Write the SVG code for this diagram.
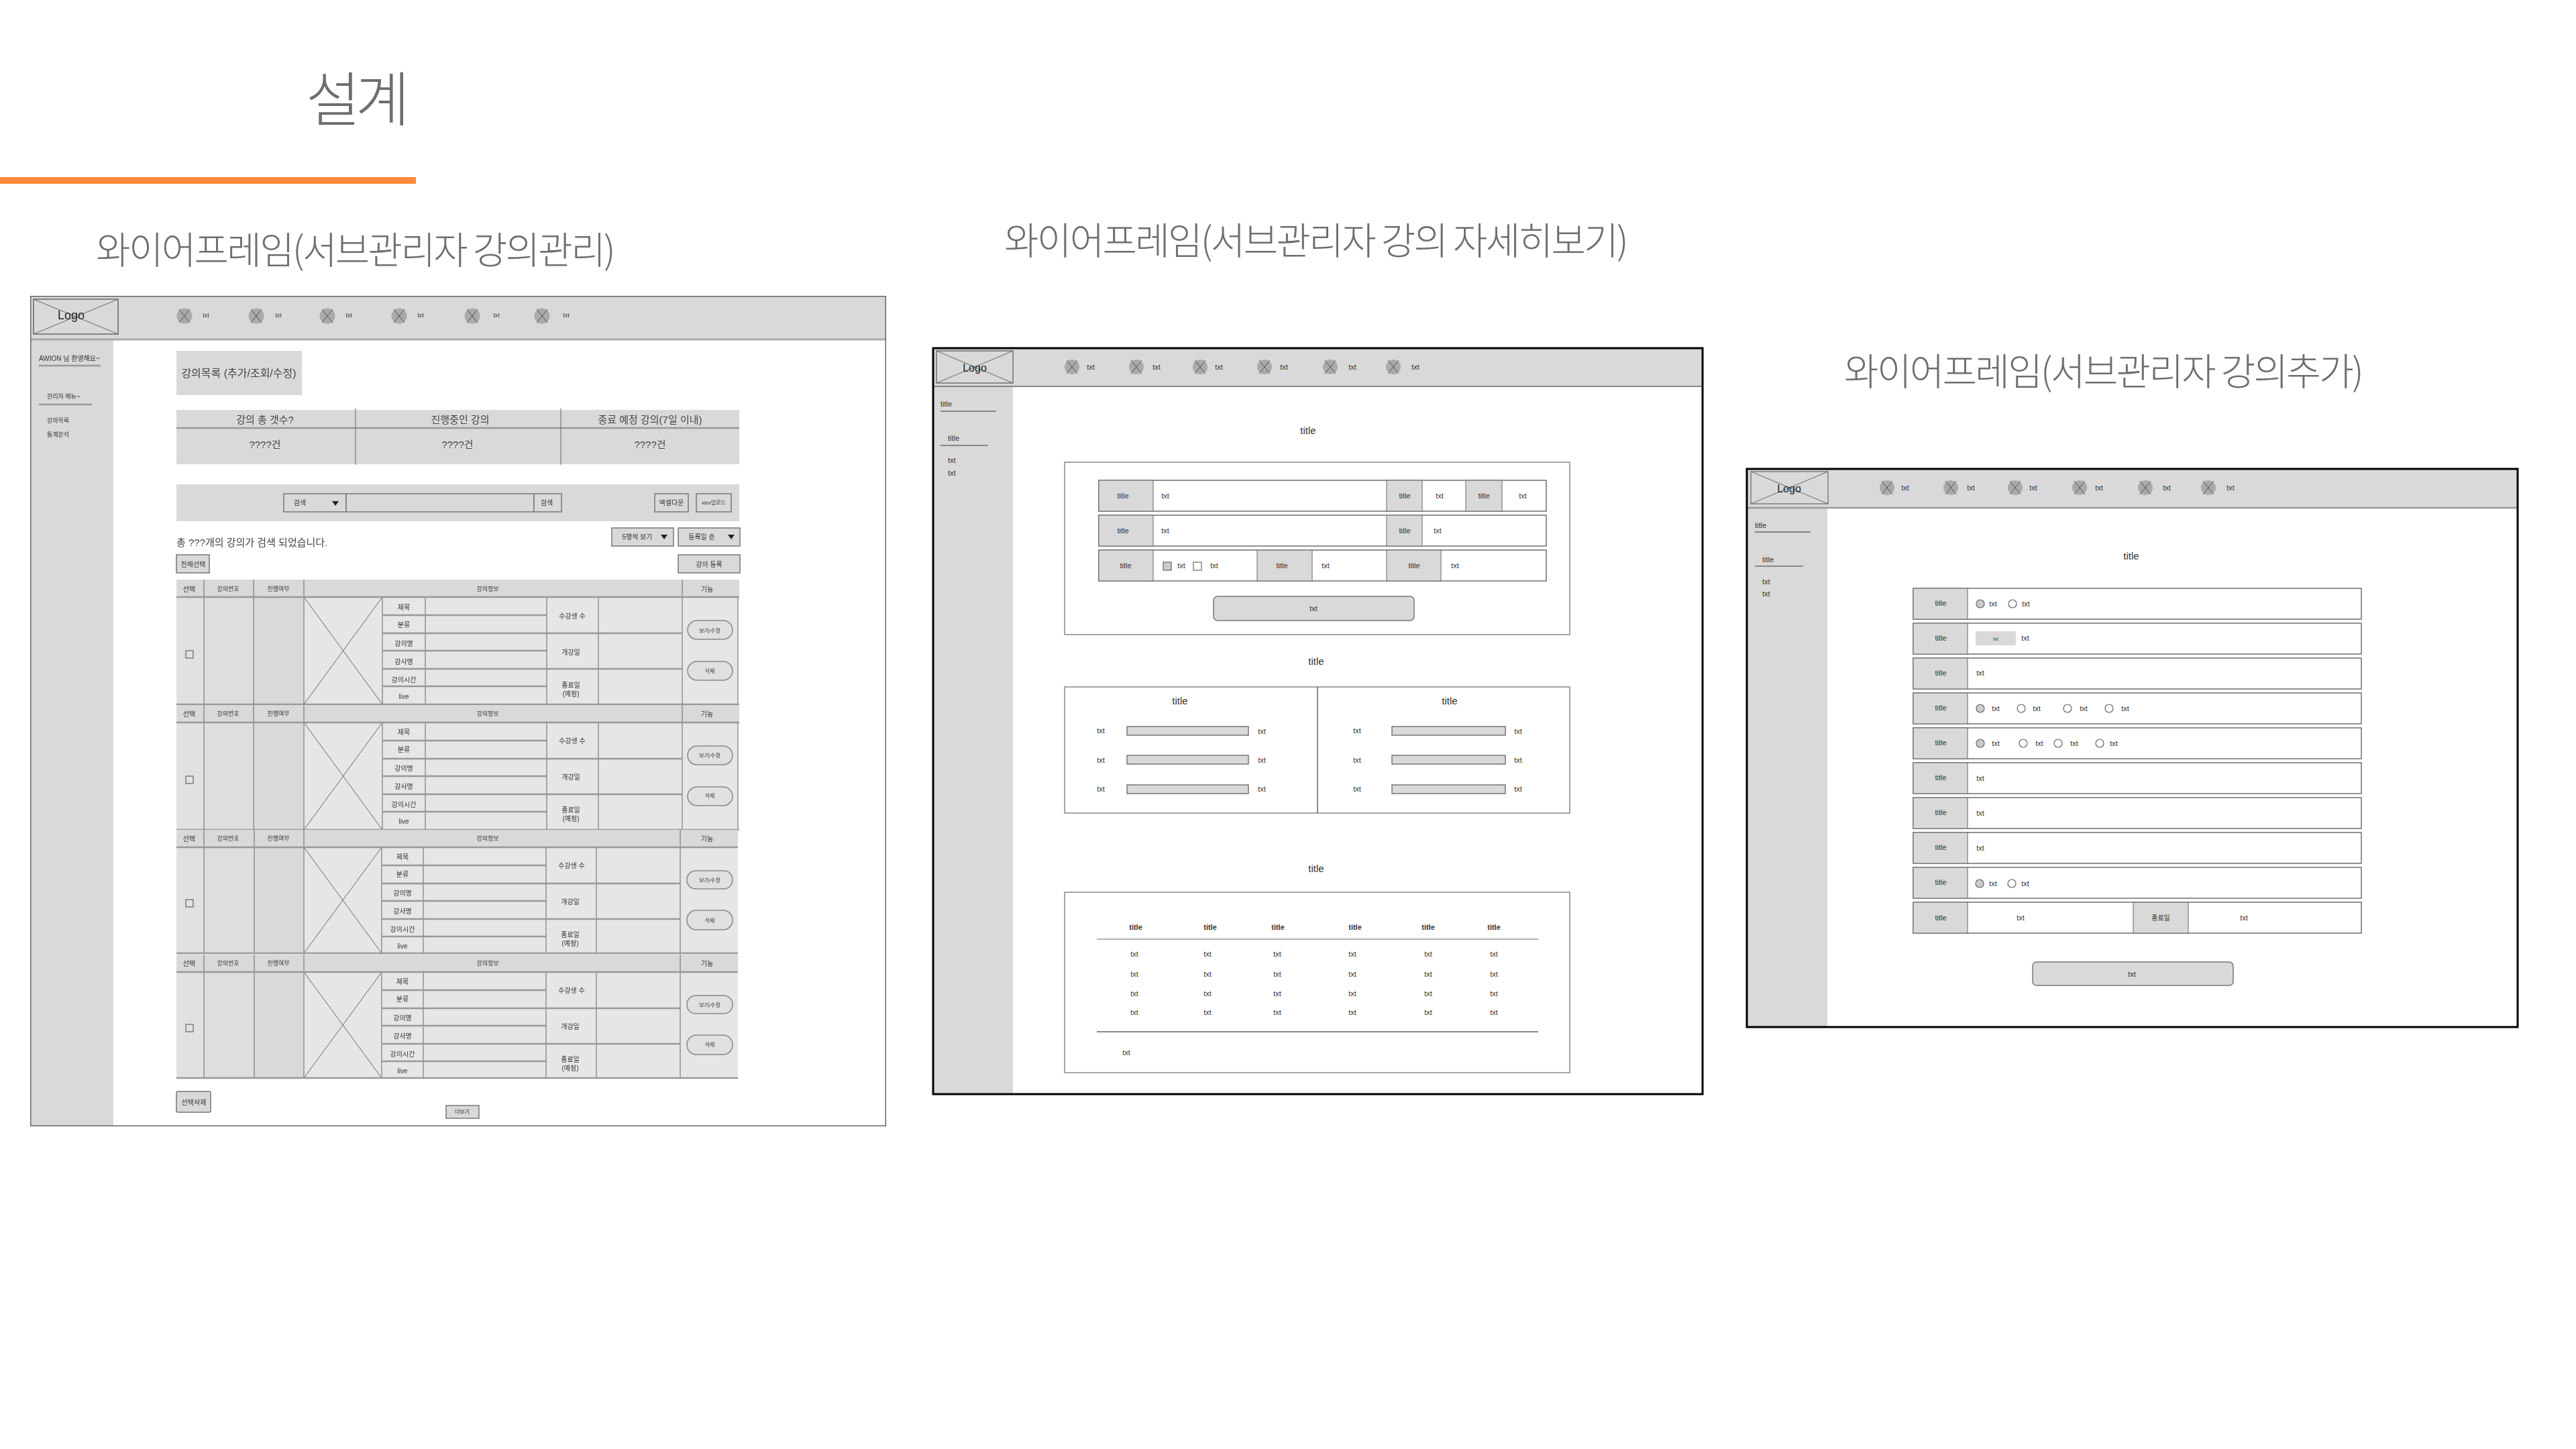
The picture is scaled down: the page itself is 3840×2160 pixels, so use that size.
<svg xmlns="http://www.w3.org/2000/svg" xmlns:xlink="http://www.w3.org/1999/xlink" width="3840" height="2160" viewBox="0 0 3840 2160">
<style>
text{font-family:"Liberation Sans","Noto Sans CJK KR",sans-serif;fill:#333;text-anchor:middle;dominant-baseline:central;font-size:11px}
.h{font-family:"Noto Sans CJK KR",sans-serif;font-weight:300;font-size:56px;fill:#6e6e6e;letter-spacing:-2.7px}
.s8{font-size:8px}.s9{font-size:9px}.s10{font-size:10px}.s15{font-size:15px}.s16{font-size:16px;fill:#222}
.t{font-size:15px;fill:#444}
.l{text-anchor:start}.b{font-weight:bold}
.bg{fill:#d9d9d9}
.c{fill:#d9d9d9;stroke:#666;stroke-width:1}
.ln{fill:none;stroke:#666;stroke-width:1}
.ln2{fill:none;stroke:#888;stroke-width:2}
.ln3{fill:none;stroke:#999;stroke-width:2.5}
.box{fill:#fff;stroke:#777;stroke-width:1.6}
.btn{fill:#d9d9d9;stroke:#777;stroke-width:1.5}
.ico{fill:#aaa}
.w{fill:#fff;stroke:#666;stroke-width:1.2}
.g{fill:#ccc;stroke:#666;stroke-width:1.2}
.fb{filter:url(#soft)}
</style>
<defs>
<filter id="soft" x="0" y="0" width="1" height="1"><feGaussianBlur stdDeviation="0.55"/></filter>
<path id="x" d="M-8-10L8 10M8-10L-8 10" fill="none" stroke="#555" stroke-width="1"/>
<path id="tri" d="M-5-3H5L0 4Z" fill="#222"/>
<g id="rowA">
<rect x="263" y="0" width="839" height="26" fill="#d9d9d9"/>
<rect x="263" y="26" width="41" height="160" fill="#e1e1e1"/>
<rect x="304" y="26" width="74" height="160" fill="#dedede"/>
<rect x="378" y="26" width="75" height="160" fill="#d9d9d9"/>
<rect x="453" y="26" width="647" height="160" fill="#e6e6e6"/>
<path class="ln" d="M304 0V186M378 0V186M453 0V186M570 26V186M634 26V186M815 26V186M892 26V186M1017 0V186M1100 26V186M453 26L570 186M570 26L453 186"/>
<path class="ln3" d="M263 26H1102M570 53H815M570 80H1017M570 106H815M570 133H1017M570 159H815M263 186H1102"/>
<rect x="1025" y="61" width="67" height="28" rx="14" fill="#e0e0e0" stroke="#888" stroke-width="1.5"/>
<rect x="1025" y="122" width="67" height="28" rx="14" fill="#e0e0e0" stroke="#888" stroke-width="1.5"/>
<rect x="277" y="106" width="11" height="11" fill="none" stroke="#666" stroke-width="1.2"/>
</g>
<g id="rowB">
<rect x="263" y="0" width="837" height="26" fill="#d9d9d9"/>
<rect x="263" y="26" width="41" height="158" fill="#e1e1e1"/>
<rect x="304" y="26" width="75" height="158" fill="#dedede"/>
<rect x="379" y="26" width="74" height="158" fill="#d9d9d9"/>
<rect x="453" y="26" width="647" height="158" fill="#e6e6e6"/>
<path class="ln" d="M304 0V184M379 0V184M453 0V184M569 26V184M631 26V184M814 26V184M889 26V184M1014 0V184M453 26L569 184M569 26L453 184"/>
<path class="ln3" d="M263 26H1100M569 53H814M569 80H1014M569 106H814M569 133H1014M569 159H814M263 184H1100"/>
<rect x="1024" y="61" width="68" height="27" rx="13" fill="#e0e0e0" stroke="#888" stroke-width="1.5"/>
<rect x="1024" y="120" width="68" height="29" rx="14" fill="#e0e0e0" stroke="#888" stroke-width="1.5"/>
<rect x="277" y="104" width="11" height="11" fill="none" stroke="#666" stroke-width="1.2"/>
</g>
<g id="f3row">
<rect class="box" x="2852" y="0" width="668" height="46"/>
<rect class="c" x="2852" y="0" width="81" height="46"/>
</g>
</defs>
<rect width="3840" height="2160" fill="#fff"/>
<g id="page-title">
<text x="530" y="141" class="h" style="font-size:88px;letter-spacing:-7px">설계</text>
<rect x="0" y="264" width="620" height="10" fill="#ff8a3d"/>
<text x="529" y="368" class="h">와이어프레임(서브관리자 강의관리)</text>
<text x="1961" y="354" class="h">와이어프레임(서브관리자 강의 자세히보기)</text>
<text x="3135" y="549" class="h">와이어프레임(서브관리자 강의추가)</text>
</g>

<g id="frame1" class="fb">
<rect x="45" y="441" width="1276" height="1238" fill="#fff"/>
<rect class="bg" x="45" y="441" width="1276" height="65"/>
<rect class="bg" x="45" y="506" width="124" height="1173"/>
<path d="M45 506H1321" stroke="#aaa" stroke-width="3"/>
<rect x="45" y="441" width="1276" height="1238" fill="none" stroke="#666" stroke-width="3"/>
<g id="f1-logo"><rect x="50" y="446" width="126" height="52" fill="none" stroke="#666" stroke-width="1.5"/><path class="ln" d="M50 446L176 498M176 446L50 498"/><text x="106" y="470" class="s16" style="font-size:18px">Logo</text></g>
<g id="f1-nav">
<circle class="ico" cx="275" cy="471" r="11.5"/><use xlink:href="#x" x="275" y="471"/><text x="307" y="470" class="s9">txt</text>
<circle class="ico" cx="382" cy="471" r="11.5"/><use xlink:href="#x" x="382" y="471"/><text x="415" y="470" class="s9">txt</text>
<circle class="ico" cx="488" cy="471" r="11.5"/><use xlink:href="#x" x="488" y="471"/><text x="520" y="470" class="s9">txt</text>
<circle class="ico" cx="595" cy="471" r="11.5"/><use xlink:href="#x" x="595" y="471"/><text x="627" y="470" class="s9">txt</text>
<circle class="ico" cx="704" cy="471" r="11.5"/><use xlink:href="#x" x="704" y="471"/><text x="740" y="470" class="s9">txt</text>
<circle class="ico" cx="808" cy="471" r="11.5"/><use xlink:href="#x" x="808" y="471"/><text x="844" y="470" class="s9">txt</text>
</g>
<g id="f1-side">
<text x="58" y="534" class="s10 l">AWION 님 환영해요~</text><path class="ln3" d="M58 545H150"/>
<text x="70" y="591" class="s9 l">관리자 메뉴~</text><path class="ln3" d="M58 603H137"/>
<text x="70" y="627" class="s9 l">강의목록</text><text x="70" y="648" class="s9 l">통계분석</text>
</g>
<g id="f1-head"><rect class="bg" x="263" y="523" width="187" height="66"/><text x="356" y="556" class="t" style="font-size:16px">강의목록 (추가/조회/수정)</text></g>
<g id="f1-stats">
<rect class="bg" x="263" y="611" width="839" height="81"/>
<path class="ln3" d="M263 638H1102"/><path class="ln" d="M530 609V693M836 609V693"/>
<text x="395" y="625" class="t">강의 총 갯수?</text><text x="686" y="625" class="t">진행중인 강의</text><text x="969" y="625" class="t">종료 예정 강의(7일 이내)</text>
<text x="395" y="662" class="t">????건</text><text x="682" y="662" class="t">????건</text><text x="969" y="662" class="t">????건</text>
</g>
<g id="f1-search">
<rect class="bg" x="263" y="722" width="839" height="55"/>
<rect class="btn" x="423" y="736" width="93" height="27"/><text x="447" y="749" class="s10">검색</text><use xlink:href="#tri" x="500" y="750"/>
<rect class="btn" x="516" y="736" width="280" height="27"/>
<rect class="btn" x="796" y="736" width="41" height="27"/><text x="815" y="749" class="s10">검색</text>
<rect class="btn" x="976" y="736" width="50" height="27"/><text x="1001" y="749" class="s10">엑셀다운</text>
<rect class="btn" x="1038" y="736" width="52" height="27"/><text x="1064" y="749" class="s8">xlsx업로드</text>
</g>
<text x="263" y="808" class="t l">총 ???개의 강의가 검색 되었습니다.</text>
<g id="f1-controls">
<rect class="btn" x="912" y="787" width="92" height="27"/><text x="950" y="800" class="s10">5행씩 보기</text><use xlink:href="#tri" x="990" y="800"/>
<rect class="btn" x="1011" y="787" width="92" height="27"/><text x="1046" y="800" class="s10">등록일 순</text><use xlink:href="#tri" x="1090" y="800"/>
<rect class="btn" x="263" y="827" width="49" height="27"/><text x="288" y="841" class="s10">전체선택</text>
<rect class="btn" x="1011" y="827" width="92" height="27"/><text x="1057" y="841" class="s10">강의 등록</text>
</g>
<g id="f1-row1" transform="translate(0,864)">
<use xlink:href="#rowA"/>
<text x="282" y="14" class="s10">선택</text><text x="340" y="14" class="s9">강의번호</text><text x="415" y="14" class="s9">진행여부</text><text x="727" y="14" class="s9">강의정보</text><text x="1054" y="14" class="s10">기능</text>
<text x="602" y="41" class="s10">제목</text><text x="602" y="67" class="s10">분류</text><text x="602" y="95" class="s10">강의명</text><text x="602" y="122" class="s10">강사명</text><text x="602" y="149" class="s10">강의시간</text><text x="602" y="174" class="s10">live</text>
<text x="853" y="54" class="s10">수강생 수</text><text x="851" y="108" class="s10">개강일</text><text x="851" y="157" class="s10">종료일</text><text x="851" y="170" class="s10">(예정)</text>
<text x="1058" y="76" class="s8">보기/수정</text><text x="1058" y="136" class="s8">삭제</text>
</g>
<g id="f1-row2" transform="translate(0,1051)">
<use xlink:href="#rowA"/>
<text x="282" y="13" class="s10">선택</text><text x="340" y="13" class="s9">강의번호</text><text x="415" y="13" class="s9">진행여부</text><text x="727" y="13" class="s9">강의정보</text><text x="1054" y="13" class="s10">기능</text>
<text x="602" y="40" class="s10">제목</text><text x="602" y="66" class="s10">분류</text><text x="602" y="94" class="s10">강의명</text><text x="602" y="121" class="s10">강사명</text><text x="602" y="148" class="s10">강의시간</text><text x="602" y="173" class="s10">live</text>
<text x="853" y="53" class="s10">수강생 수</text><text x="851" y="107" class="s10">개강일</text><text x="851" y="156" class="s10">종료일</text><text x="851" y="169" class="s10">(예정)</text>
<text x="1058" y="75" class="s8">보기/수정</text><text x="1058" y="135" class="s8">삭제</text>
</g>
<g id="f1-row3" transform="translate(0,1237)">
<use xlink:href="#rowB"/>
<text x="282" y="13" class="s10">선택</text><text x="340" y="13" class="s9">강의번호</text><text x="415" y="13" class="s9">진행여부</text><text x="727" y="13" class="s9">강의정보</text><text x="1054" y="13" class="s10">기능</text>
<text x="600" y="40" class="s10">제목</text><text x="600" y="66" class="s10">분류</text><text x="600" y="94" class="s10">강의명</text><text x="600" y="121" class="s10">강사명</text><text x="600" y="148" class="s10">강의시간</text><text x="600" y="173" class="s10">live</text>
<text x="852" y="53" class="s10">수강생 수</text><text x="850" y="107" class="s10">개강일</text><text x="850" y="156" class="s10">종료일</text><text x="850" y="169" class="s10">(예정)</text>
<text x="1058" y="75" class="s8">보기/수정</text><text x="1058" y="135" class="s8">삭제</text>
</g>
<g id="f1-row4" transform="translate(0,1423)">
<use xlink:href="#rowB"/>
<text x="282" y="13" class="s10">선택</text><text x="340" y="13" class="s9">강의번호</text><text x="415" y="13" class="s9">진행여부</text><text x="727" y="13" class="s9">강의정보</text><text x="1054" y="13" class="s10">기능</text>
<text x="600" y="40" class="s10">제목</text><text x="600" y="66" class="s10">분류</text><text x="600" y="94" class="s10">강의명</text><text x="600" y="121" class="s10">강사명</text><text x="600" y="148" class="s10">강의시간</text><text x="600" y="173" class="s10">live</text>
<text x="852" y="53" class="s10">수강생 수</text><text x="850" y="107" class="s10">개강일</text><text x="850" y="156" class="s10">종료일</text><text x="850" y="169" class="s10">(예정)</text>
<text x="1058" y="75" class="s8">보기/수정</text><text x="1058" y="134" class="s8">삭제</text>
</g>
<g id="f1-bottom">
<rect class="btn" x="263" y="1627" width="51" height="31" rx="2"/><text x="289" y="1643" class="s10">선택삭제</text>
<rect class="btn" x="665" y="1648" width="49" height="19"/><text x="689" y="1657" class="s8">더보기</text>
</g>
</g>

<g id="frame2">
<rect x="1391" y="519" width="1147" height="1112" fill="#fff"/>
<rect class="bg" x="1391" y="519" width="1147" height="57"/>
<rect class="bg" x="1391" y="576" width="119" height="1055"/>
<path d="M1391 576H2538" stroke="#666" stroke-width="1.5"/>
<rect x="1391" y="519" width="1147" height="1112" fill="none" stroke="#000" stroke-width="3"/>
<g id="f2-logo"><rect x="1396" y="523" width="114" height="48" fill="none" stroke="#555" stroke-width="1.2"/><path class="ln" d="M1396 523L1510 571M1510 523L1396 571"/><text x="1453" y="548" class="s16">Logo</text></g>
<g id="f2-nav">
<circle class="ico" cx="1598" cy="547" r="11"/><use xlink:href="#x" x="1598" y="547"/><text x="1626" y="547">txt</text>
<circle class="ico" cx="1694" cy="547" r="11"/><use xlink:href="#x" x="1694" y="547"/><text x="1724" y="547">txt</text>
<circle class="ico" cx="1789" cy="547" r="11"/><use xlink:href="#x" x="1789" y="547"/><text x="1817" y="547">txt</text>
<circle class="ico" cx="1885" cy="547" r="11"/><use xlink:href="#x" x="1885" y="547"/><text x="1914" y="547">txt</text>
<circle class="ico" cx="1983" cy="547" r="11"/><use xlink:href="#x" x="1983" y="547"/><text x="2016" y="547">txt</text>
<circle class="ico" cx="2077" cy="547" r="11"/><use xlink:href="#x" x="2077" y="547"/><text x="2110" y="547">txt</text>
</g>
<g id="f2-side">
<text x="1402" y="602" class="l">title</text><path class="ln2" d="M1402 613H1485"/>
<text x="1413" y="653" class="l">title</text><path class="ln2" d="M1402 664H1473"/>
<text x="1413" y="686" class="l">txt</text><text x="1413" y="705" class="l">txt</text>
</g>
<text x="1950" y="641" class="s15">title</text>
<g id="f2-panel1">
<rect class="box" x="1587" y="689" width="753" height="257" style="stroke:#888;stroke-width:1.5"/>
<g id="f2-r1"><rect class="box" x="1638" y="716" width="667" height="46"/><rect class="c" x="1638" y="716" width="81" height="46"/><rect class="c" x="2067" y="716" width="53" height="46"/><rect class="c" x="2185" y="716" width="54" height="46"/>
<text x="1674" y="739">title</text><text x="1737" y="739">txt</text><text x="2094" y="739">title</text><text x="2146" y="739">txt</text><text x="2212" y="739">title</text><text x="2270" y="739">txt</text></g>
<g id="f2-r2"><rect class="box" x="1638" y="768" width="667" height="46"/><rect class="c" x="1638" y="768" width="81" height="46"/><rect class="c" x="2067" y="768" width="53" height="46"/>
<text x="1674" y="791">title</text><text x="1737" y="791">txt</text><text x="2094" y="791">title</text><text x="2143" y="791">txt</text></g>
<g id="f2-r3"><rect class="box" x="1638" y="820" width="667" height="46"/><rect class="c" x="1638" y="820" width="81" height="46"/><rect class="c" x="1874" y="820" width="82" height="46"/><rect class="c" x="2067" y="820" width="81" height="46"/>
<text x="1678" y="843">title</text><rect class="g" x="1734" y="838" width="12" height="12"/><text x="1761" y="843">txt</text><rect class="w" x="1779" y="838" width="12" height="12"/><text x="1810" y="843">txt</text>
<text x="1911" y="843">title</text><text x="1976" y="843">txt</text><text x="2108" y="843">title</text><text x="2169" y="843">txt</text></g>
<rect class="btn" x="1809" y="889" width="299" height="36" rx="6"/><text x="1958" y="907">txt</text>
</g>
<text x="1962" y="985" class="s15">title</text>
<g id="f2-panel2">
<rect class="box" x="1587" y="1024" width="753" height="188" style="stroke:#888;stroke-width:1.5"/>
<path class="ln" d="M1964 1024V1212" style="stroke-width:1.5"/>
<text x="1759" y="1044" class="s15">title</text><text x="2161" y="1044" class="s15">title</text>
<rect class="btn" x="1680" y="1083" width="181" height="13"/><rect class="btn" x="1680" y="1126" width="181" height="13"/><rect class="btn" x="1680" y="1170" width="181" height="13"/>
<rect class="btn" x="2075" y="1083" width="169" height="13"/><rect class="btn" x="2075" y="1126" width="169" height="13"/><rect class="btn" x="2075" y="1170" width="169" height="13"/>
<text x="1641" y="1089">txt</text><text x="1881" y="1090">txt</text><text x="2023" y="1089">txt</text><text x="2263" y="1090">txt</text>
<text x="1641" y="1133">txt</text><text x="1881" y="1133">txt</text><text x="2023" y="1133">txt</text><text x="2263" y="1133">txt</text>
<text x="1641" y="1176">txt</text><text x="1881" y="1176">txt</text><text x="2023" y="1176">txt</text><text x="2263" y="1176">txt</text>
</g>
<text x="1962" y="1294" class="s15">title</text>
<g id="f2-panel3">
<rect class="box" x="1587" y="1330" width="753" height="269" style="stroke:#888;stroke-width:1.5"/>
<text x="1693" y="1382" class="b">title</text><text x="1804" y="1382" class="b">title</text><text x="1905" y="1382" class="b">title</text><text x="2020" y="1382" class="b">title</text><text x="2129" y="1382" class="b">title</text><text x="2227" y="1382" class="b">title</text>
<path class="ln" d="M1635 1400H2293"/><path class="ln2" d="M1635 1538H2293"/>
<text x="1691" y="1422">txt</text><text x="1800" y="1422">txt</text><text x="1904" y="1422">txt</text><text x="2016" y="1422">txt</text><text x="2129" y="1422">txt</text><text x="2227" y="1422">txt</text>
<text x="1691" y="1452">txt</text><text x="1800" y="1452">txt</text><text x="1904" y="1452">txt</text><text x="2016" y="1452">txt</text><text x="2129" y="1452">txt</text><text x="2227" y="1452">txt</text>
<text x="1691" y="1481">txt</text><text x="1800" y="1481">txt</text><text x="1904" y="1481">txt</text><text x="2016" y="1481">txt</text><text x="2129" y="1481">txt</text><text x="2227" y="1481">txt</text>
<text x="1691" y="1509">txt</text><text x="1800" y="1509">txt</text><text x="1904" y="1509">txt</text><text x="2016" y="1509">txt</text><text x="2129" y="1509">txt</text><text x="2227" y="1509">txt</text>
<text x="1679" y="1569">txt</text>
</g>
</g>

<g id="frame3">
<rect x="2604" y="699" width="1149" height="832" fill="#fff"/>
<rect class="bg" x="2604" y="699" width="1149" height="58"/>
<rect class="bg" x="2604" y="757" width="120" height="774"/>
<path d="M2604 757H3753" stroke="#999" stroke-width="2.5"/>
<rect x="2604" y="699" width="1149" height="832" fill="none" stroke="#000" stroke-width="3"/>
<g id="f3-logo"><rect x="2610" y="703" width="115" height="48" fill="none" stroke="#666" stroke-width="1.2"/><path class="ln" d="M2610 703L2725 751M2725 703L2610 751"/><text x="2667" y="728" class="s16">Logo</text></g>
<g id="f3-nav">
<circle class="ico" cx="2813" cy="727" r="11"/><use xlink:href="#x" x="2813" y="727"/><text x="2840" y="727">txt</text>
<circle class="ico" cx="2908" cy="727" r="11"/><use xlink:href="#x" x="2908" y="727"/><text x="2938" y="727">txt</text>
<circle class="ico" cx="3004" cy="727" r="11"/><use xlink:href="#x" x="3004" y="727"/><text x="3031" y="727">txt</text>
<circle class="ico" cx="3100" cy="727" r="11"/><use xlink:href="#x" x="3100" y="727"/><text x="3129" y="727">txt</text>
<circle class="ico" cx="3198" cy="727" r="11"/><use xlink:href="#x" x="3198" y="727"/><text x="3230" y="727">txt</text>
<circle class="ico" cx="3292" cy="727" r="11"/><use xlink:href="#x" x="3292" y="727"/><text x="3325" y="727">txt</text>
</g>
<g id="f3-side">
<text x="2616" y="783" class="l">title</text><path class="ln" d="M2616 793H2699" style="stroke-width:1.5"/>
<text x="2627" y="834" class="l">title</text><path class="ln2" d="M2616 844H2688"/>
<text x="2627" y="867" class="l">txt</text><text x="2627" y="885" class="l">txt</text>
</g>
<text x="3177" y="828" class="s15">title</text>
<g id="f3-r1"><use xlink:href="#f3row" y="877"/><text x="2893" y="899">title</text><circle class="g" cx="2952" cy="900" r="6"/><text x="2971" y="900">txt</text><circle class="w" cx="3000" cy="900" r="6"/><text x="3020" y="900">txt</text></g>
<g id="f3-r2"><use xlink:href="#f3row" y="929"/><text x="2893" y="951">title</text><rect x="2945" y="941" width="60" height="21" rx="2" fill="#d9d9d9"/><text x="2975" y="952" style="font-size:7px">txt</text><text x="3019" y="951">txt</text></g>
<g id="f3-r3"><use xlink:href="#f3row" y="981"/><text x="2893" y="1003">title</text><text x="2952" y="1003">txt</text></g>
<g id="f3-r4"><use xlink:href="#f3row" y="1033"/><text x="2893" y="1055">title</text><circle class="g" cx="2952" cy="1056" r="6"/><text x="2975" y="1056">txt</text><circle class="w" cx="3013" cy="1056" r="6"/><text x="3036" y="1056">txt</text><circle class="w" cx="3082" cy="1056" r="6"/><text x="3106" y="1056">txt</text><circle class="w" cx="3144" cy="1056" r="6"/><text x="3168" y="1056">txt</text></g>
<g id="f3-r5"><use xlink:href="#f3row" y="1085"/><text x="2893" y="1107">title</text><circle class="g" cx="2952" cy="1108" r="6"/><text x="2975" y="1108">txt</text><circle class="w" cx="3016" cy="1108" r="6"/><text x="3040" y="1108">txt</text><circle class="w" cx="3068" cy="1108" r="6"/><text x="3092" y="1108">txt</text><circle class="w" cx="3130" cy="1108" r="6"/><text x="3151" y="1108">txt</text></g>
<g id="f3-r6"><use xlink:href="#f3row" y="1137"/><text x="2893" y="1159">title</text><text x="2952" y="1160">txt</text></g>
<g id="f3-r7"><use xlink:href="#f3row" y="1189"/><text x="2893" y="1211">title</text><text x="2952" y="1212">txt</text></g>
<g id="f3-r8"><use xlink:href="#f3row" y="1241"/><text x="2893" y="1263">title</text><text x="2952" y="1264">txt</text></g>
<g id="f3-r9"><use xlink:href="#f3row" y="1293"/><text x="2893" y="1315">title</text><circle class="g" cx="2951" cy="1317" r="6"/><text x="2971" y="1317">txt</text><circle class="w" cx="2999" cy="1317" r="6"/><text x="3019" y="1317">txt</text></g>
<g id="f3-r10"><use xlink:href="#f3row" y="1345"/><rect class="c" x="3180" y="1345" width="82" height="46"/><text x="2893" y="1368">title</text><text x="3012" y="1368">txt</text><text x="3221" y="1368" class="s10">종료일</text><text x="3345" y="1368">txt</text></g>
<rect class="btn" x="3030" y="1434" width="299" height="35" rx="6"/><text x="3178" y="1452">txt</text>
</g>
</svg>
